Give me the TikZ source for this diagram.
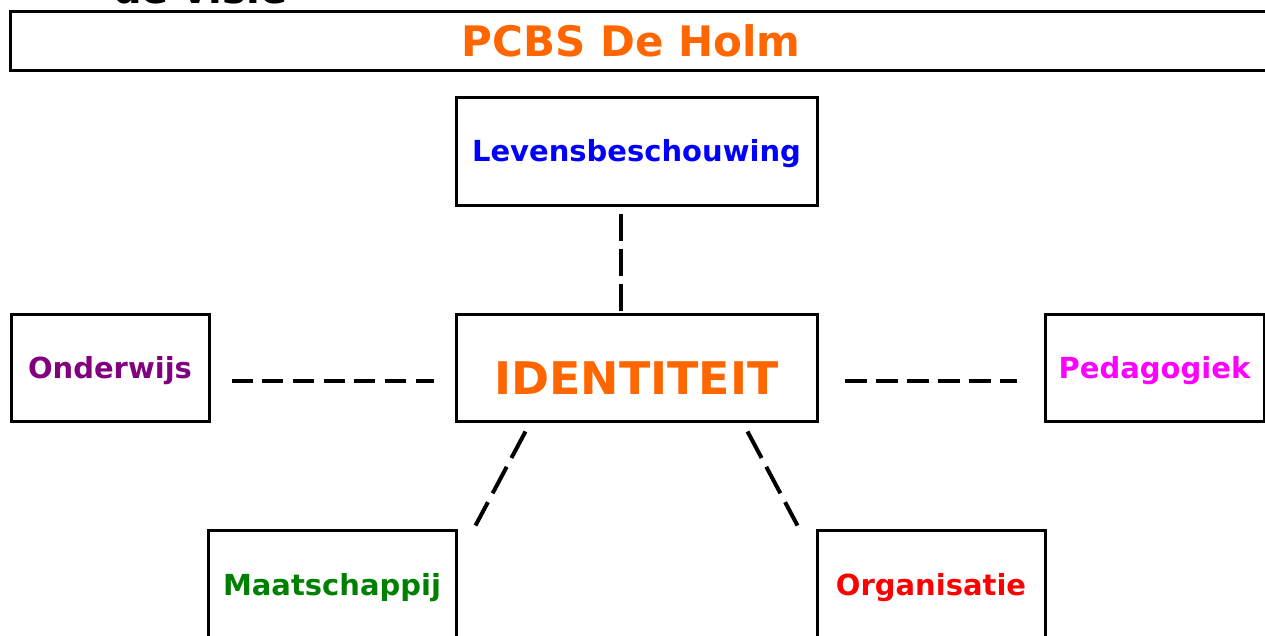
\documentclass[tikz,border=0pt]{standalone}
\usepackage{fontspec}
\setmainfont{DejaVu Sans}
\definecolor{hOrange}{HTML}{FF6600}
\definecolor{hBlue}{HTML}{0000FF}
\definecolor{hPurple}{HTML}{800080}
\definecolor{hMagenta}{HTML}{FF00FF}
\definecolor{hGreen}{HTML}{008000}
\definecolor{hRed}{HTML}{FF0000}
\begin{document}
\begin{tikzpicture}[x=1pt,y=-1pt,
  box/.style={draw,line width=3pt,inner sep=0pt,
    font=\bfseries\fontsize{29}{31}\selectfont,text height=21pt,text depth=0pt},
  conn/.style={line width=4pt}]
\useasboundingbox (0,0) rectangle (1265,635);
\clip (0,0) rectangle (1265,635);
\fill[white] (0,0) rectangle (1265,635);
% cut-off heading
\node[anchor=base west,inner sep=0pt,font=\bfseries\fontsize{40}{44}\selectfont] (visie) at (113,3) {de visie};
% title bar
\draw[line width=3pt] (10,11) rectangle (1285,70);
\node[inner sep=0pt,text=hOrange,font=\bfseries\fontsize{42}{46}\selectfont,text height=30pt,text depth=0pt] (title) at (631,41) {PCBS De Holm};
% boxes
\node[box,text=hBlue,minimum width=361pt,minimum height=108pt] (lev) at (636.5,151) {Levensbeschouwing};
\node[box,text=hOrange,minimum width=361pt,minimum height=107pt,
  font=\bfseries\fontsize{45}{48}\selectfont,text height=53pt] (id) at (636.5,367.5) {\scalebox{1.02}[1]{IDENTITEIT}};
\node[box,text=hPurple,minimum width=198pt,minimum height=107pt] (ond) at (110,367.5) {Onderwijs};
\node[box,text=hMagenta,minimum width=219pt,minimum height=107pt] (ped) at (1154.5,367.5) {Pedagogiek};
\node[box,text=hGreen,minimum width=248pt,minimum height=110pt] (maat) at (332,585) {Maatschappij};
\node[box,text=hRed,minimum width=228pt,minimum height=110pt] (org) at (931,585) {Organisatie};
% connectors
\draw[conn,dash pattern=on 27pt off 8pt] ([xshift=-15.5pt,yshift=-7pt]lev.south) -- ([xshift=-15.5pt,yshift=2pt]id.north);
\draw[conn,dash pattern=on 21pt off 9.7pt] ([xshift=21pt,yshift=-13.5pt]ond.east) -- ([xshift=-21pt,yshift=-13.5pt]id.west);
\draw[conn,dash pattern=on 22pt off 9pt] ([xshift=26pt,yshift=-13.5pt]id.east) -- ([xshift=-27pt,yshift=-13.5pt]ped.west);
\draw[conn,dash pattern=on 30pt off 10pt] ([xshift=71pt,yshift=-9pt]id.south west) -- ([xshift=18pt,yshift=3pt]maat.north east);
\draw[conn,dash pattern=on 30pt off 10pt] ([xshift=-71pt,yshift=-9pt]id.south east) -- ([xshift=-18pt,yshift=3pt]org.north west);
\end{tikzpicture}
\end{document}
